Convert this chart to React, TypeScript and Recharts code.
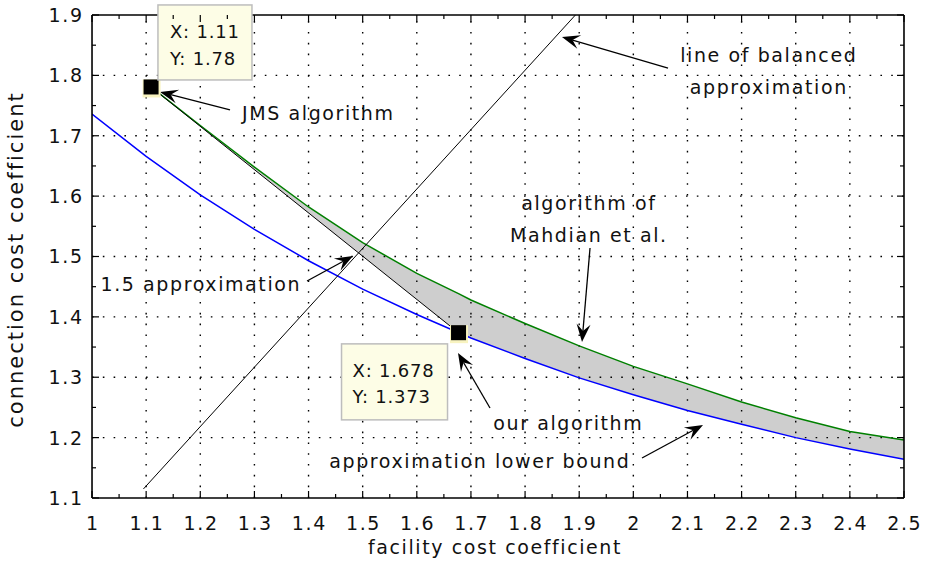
import React from 'react';
import {
  ComposedChart,
  XAxis,
  YAxis,
  Line,
  Area,
  Scatter,
  ReferenceLine,
  ReferenceDot,
} from 'recharts';

// ---------- axes ----------
const xTicks = [1, 1.1, 1.2, 1.3, 1.4, 1.5, 1.6, 1.7, 1.8, 1.9, 2, 2.1, 2.2, 2.3, 2.4, 2.5];
const xTickLabels = ['1', '1.1', '1.2', '1.3', '1.4', '1.5', '1.6', '1.7', '1.8', '1.9', '2', '2.1', '2.2', '2.3', '2.4', '2.5'];
const xMinorTicks = [1.05, 1.15, 1.25, 1.35, 1.45, 1.55, 1.65, 1.75, 1.85, 1.95, 2.05, 2.15, 2.25, 2.35, 2.45];
const yTicks = [1.1, 1.2, 1.3, 1.4, 1.5, 1.6, 1.7, 1.8, 1.9];
const yTickLabels = ['1.1', '1.2', '1.3', '1.4', '1.5', '1.6', '1.7', '1.8', '1.9'];
const yMinorTicks = [1.15, 1.25, 1.35, 1.45, 1.55, 1.65, 1.75, 1.85];
const xTitle = 'facility cost coefficient';
const yTitle = 'connection cost coefficient';

// ---------- series ----------
// approximation lower bound (blue)
const lowerBoundX = [1.0, 1.1, 1.2, 1.3, 1.4, 1.5, 1.6, 1.7, 1.8, 1.9, 2.0, 2.1, 2.2, 2.3, 2.4, 2.5];
const lowerBoundY = [1.736, 1.666, 1.602, 1.545, 1.493, 1.446, 1.404, 1.365, 1.331, 1.299, 1.271, 1.245, 1.222, 1.2, 1.181, 1.164];

// algorithm of Mahdian et al. (green)
const mahdianX = [1.11, 1.2, 1.3, 1.4, 1.5, 1.6, 1.678, 1.7, 1.8, 1.9, 2.0, 2.1, 2.2, 2.3, 2.4, 2.5];
const mahdianY = [1.78, 1.717, 1.648, 1.582, 1.523, 1.472, 1.438, 1.428, 1.389, 1.352, 1.318, 1.289, 1.259, 1.233, 1.21, 1.196];

// lower edge of the shaded region, at the same x as mahdianX
const shadeLowY = [1.78, 1.7155, 1.644, 1.572, 1.501, 1.429, 1.373, 1.365, 1.331, 1.299, 1.271, 1.245, 1.222, 1.2, 1.181, 1.164];

// JMS -> our algorithm segment (black)
const jmsSegmentX = [1.11, 1.678];
const jmsSegmentY = [1.78, 1.373];

// line of balanced approximation (black)
const balancedX = [1.095, 1.893];
const balancedY = [1.115, 1.9];

// data-tip markers
const markerX = [1.11, 1.678];
const markerY = [1.78, 1.373];
const markerTips = [
  ['X: 1.11', 'Y: 1.78'],
  ['X: 1.678', 'Y: 1.373'],
];

// text annotations (data coordinates)
const noteLines = [
  ['JMS algorithm'],
  ['1.5 approximation'],
  ['line of balanced', 'approximation'],
  ['algorithm of', 'Mahdian et al.'],
  ['our algorithm'],
  ['approximation lower bound'],
];
const noteX = [1.4166, 1.1995, 2.2488, 1.9163, 1.8784, 1.7149];
const noteY = [1.7261, 1.4429, 1.8222, 1.577, 1.2126, 1.1497];

// arrows (data coordinates): from tail to tip
const arrowFromX = [1.2549, 1.3972, 2.0641, 1.92, 1.7352, 2.016];
const arrowFromY = [1.7427, 1.4594, 1.8122, 1.5141, 1.2491, 1.1663];
const arrowToX = [1.1256, 1.4821, 1.8682, 1.9052, 1.6761, 2.1287];
const arrowToY = [1.7725, 1.5008, 1.8636, 1.3584, 1.3402, 1.2209];

// ---------- derived tables ----------
const lowerBoundData = lowerBoundX.map((x, i) => ({ x, y: lowerBoundY[i] }));
const mahdianData = mahdianX.map((x, i) => ({ x, y: mahdianY[i] }));
const shadeData = mahdianX.map((x, i) => ({ x, range: [shadeLowY[i], mahdianY[i]] }));
const jmsSegmentData = jmsSegmentX.map((x, i) => ({ x, y: jmsSegmentY[i] }));
const balancedData = balancedX.map((x, i) => ({ x, y: balancedY[i] }));
const markerData = markerX.map((x, i) => ({ x, y: markerY[i] }));

// ---------- styles ----------
const W = 928;
const H = 571;
const MARGIN = { top: 15, right: 24, bottom: 73, left: 92 };
const THIN = 0.01; // axis band thickness (must be > 0 for the axis to draw)
const FONT = '"DejaVu Sans", "Liberation Sans", sans-serif';
const TXT = { fontFamily: FONT, fontSize: 19, letterSpacing: 1.6, fill: '#111' };
const TIP_TXT = { fontFamily: FONT, fontSize: 18, letterSpacing: 0.8, fill: '#111' };
const MAJOR = 7;
const MINOR = 4;
const TICK_STROKE = 1.2;
const tipLayout = [
  { dx: 6.4, dy: -82.5, w: 94, h: 75, tx: 18.4, ty: [-49.5, -22.5] },
  { dx: -117.5, dy: 10.7, w: 106, h: 76, tx: -106.5, ty: [43.7, 69.7] },
];

const labelFor = (ticks: number[], labels: string[], v: number) => {
  const i = ticks.findIndex((t) => Math.abs(t - v) < 1e-9);
  return i >= 0 ? labels[i] : String(v);
};

const BottomTick = (p: any) => (
  <g>
    <line x1={p.x} y1={p.y} x2={p.x} y2={p.y - MAJOR} stroke="#000" strokeWidth={TICK_STROKE} />
    <text x={p.x + 0.8} y={p.y + 32} textAnchor="middle" style={TXT}>
      {labelFor(xTicks, xTickLabels, p.payload.value)}
    </text>
  </g>
);
const BottomMinorTick = (p: any) => (
  <line x1={p.x} y1={p.y} x2={p.x} y2={p.y - MINOR} stroke="#000" strokeWidth={TICK_STROKE} />
);
const TopTick = (p: any) => {
  const major = xTicks.some((t) => Math.abs(t - p.payload.value) < 1e-9);
  return <line x1={p.x} y1={p.y} x2={p.x} y2={p.y + (major ? MAJOR : MINOR)} stroke="#000" strokeWidth={TICK_STROKE} />;
};
const LeftTick = (p: any) => (
  <g>
    <line x1={p.x} y1={p.y} x2={p.x + MAJOR} y2={p.y} stroke="#000" strokeWidth={TICK_STROKE} />
    <text x={p.x - 10 + 1.6} y={p.y + 7} textAnchor="end" style={TXT}>
      {labelFor(yTicks, yTickLabels, p.payload.value)}
    </text>
  </g>
);
const LeftMinorTick = (p: any) => (
  <line x1={p.x} y1={p.y} x2={p.x + MINOR} y2={p.y} stroke="#000" strokeWidth={TICK_STROKE} />
);
const RightTick = (p: any) => {
  const major = yTicks.some((t) => Math.abs(t - p.payload.value) < 1e-9);
  return <line x1={p.x} y1={p.y} x2={p.x - (major ? MAJOR : MINOR)} y2={p.y} stroke="#000" strokeWidth={TICK_STROKE} />;
};

const XTitle = (props: any) => {
  const vb = props.viewBox || { x: MARGIN.left, y: H - MARGIN.bottom, width: W - MARGIN.left - MARGIN.right, height: 0 };
  const x = vb.x + vb.width / 2 - 3;
  const y = vb.y + 56;
  return (
    <text x={x} y={y} textAnchor="middle" style={TXT}>
      {xTitle}
    </text>
  );
};
const YTitle = (props: any) => {
  const vb = props.viewBox || { x: MARGIN.left, y: MARGIN.top, width: 0, height: H - MARGIN.top - MARGIN.bottom };
  const x = vb.x - 69;
  const y = vb.y + vb.height / 2 + 3;
  return (
    <text x={x} y={y} transform={`rotate(-90 ${x} ${y})`} textAnchor="middle" style={{ ...TXT, fontSize: 21, letterSpacing: 2 }}>
      {yTitle}
    </text>
  );
};

const Arrow = (p: any) => {
  const { x1, y1, x2, y2 } = p;
  if ([x1, y1, x2, y2].some((v) => v == null || isNaN(v))) return null;
  const dx = x2 - x1;
  const dy = y2 - y1;
  const len = Math.hypot(dx, dy) || 1;
  const ux = dx / len;
  const uy = dy / len;
  const nx = -uy;
  const ny = ux;
  const L = 18;
  const HW = 7;
  const N = 11;
  const bx = x2 - ux * L;
  const by = y2 - uy * L;
  const head = `M${x2},${y2} L${bx + nx * HW},${by + ny * HW} L${x2 - ux * N},${y2 - uy * N} L${bx - nx * HW},${by - ny * HW} Z`;
  return (
    <g>
      <line x1={x1} y1={y1} x2={x2 - ux * N} y2={y2 - uy * N} stroke="#000" strokeWidth={1.3} />
      <path d={head} fill="#000" />
    </g>
  );
};

const makeNote = (lines: string[]) => (p: any) => {
  const { cx, cy } = p;
  return (
    <g>
      {lines.map((t, i) => (
        <text key={i} x={cx + 0.8} y={cy + i * 30 * (lines.length > 1 ? 1.07 : 1)} textAnchor="middle" style={TXT}>
          {t}
        </text>
      ))}
    </g>
  );
};

const makeTip = (k: number) => (p: any) => {
  const { cx, cy } = p;
  const L = tipLayout[k];
  return (
    <g>
      <rect x={cx + L.dx} y={cy + L.dy} width={L.w} height={L.h} fill="#fdfde6" stroke="#bdbdbd" strokeWidth={1.5} />
      {markerTips[k].map((t, i) => (
        <text key={i} x={cx + L.tx} y={cy + L.ty[i]} style={TIP_TXT}>
          {t}
        </text>
      ))}
    </g>
  );
};

const MarkerShape = (p: any) => (
  <g>
    <rect x={p.cx - 9} y={p.cy - 8} width={18} height={18} fill="#f8f3c0" />
    <rect x={p.cx - 8} y={p.cy - 8} width={15} height={15} fill="#000" />
  </g>
);

export default function App() {
  return (
    <div style={{ position: 'absolute', left: 0, top: 0, width: W, height: H, background: '#fff' }}>
      <ComposedChart width={W} height={H} margin={MARGIN}>
        <XAxis
          xAxisId={0}
          dataKey="x"
          type="number"
          domain={[1, 2.5]}
          allowDataOverflow
          ticks={xTicks}
          interval={0}
          height={THIN}
          tickSize={0}
          tickMargin={0}
          tickLine={false}
          tick={<BottomTick />}
          axisLine={{ stroke: '#000', strokeWidth: 1.6 }}
          label={<XTitle />}
        />
        <XAxis
          xAxisId="bminor"
          dataKey="x"
          type="number"
          domain={[1, 2.5]}
          allowDataOverflow
          ticks={xMinorTicks}
          interval={0}
          height={THIN}
          tickSize={0}
          tickMargin={0}
          tickLine={false}
          tick={<BottomMinorTick />}
          axisLine={false}
        />
        <XAxis
          xAxisId="top"
          orientation="top"
          dataKey="x"
          type="number"
          domain={[1, 2.5]}
          allowDataOverflow
          ticks={[...xTicks, ...xMinorTicks].sort((a, b) => a - b)}
          interval={0}
          height={THIN}
          tickSize={0}
          tickMargin={0}
          tickLine={false}
          tick={<TopTick />}
          axisLine={{ stroke: '#000', strokeWidth: 1.6 }}
        />
        <YAxis
          yAxisId={0}
          type="number"
          domain={[1.1, 1.9]}
          allowDataOverflow
          ticks={yTicks}
          interval={0}
          width={THIN}
          tickSize={0}
          tickMargin={0}
          tickLine={false}
          tick={<LeftTick />}
          axisLine={{ stroke: '#000', strokeWidth: 1.6 }}
          label={<YTitle />}
        />
        <YAxis
          yAxisId="lminor"
          type="number"
          domain={[1.1, 1.9]}
          allowDataOverflow
          ticks={yMinorTicks}
          interval={0}
          width={THIN}
          tickSize={0}
          tickMargin={0}
          tickLine={false}
          tick={<LeftMinorTick />}
          axisLine={false}
        />
        <YAxis
          yAxisId="right"
          orientation="right"
          type="number"
          domain={[1.1, 1.9]}
          allowDataOverflow
          ticks={[...yTicks, ...yMinorTicks].sort((a, b) => a - b)}
          interval={0}
          width={THIN}
          tickSize={0}
          tickMargin={0}
          tickLine={false}
          tick={<RightTick />}
          axisLine={{ stroke: '#000', strokeWidth: 1.6 }}
        />

        <Area
          data={shadeData}
          dataKey="range"
          type="linear"
          fill="#cecece"
          fillOpacity={1}
          stroke="none"
          isAnimationActive={false}
          activeDot={false}
        />

        {xTicks.slice(1, -1).map((v) => (
          <ReferenceLine key={`gx${v}`} x={v} stroke="#000" strokeWidth={1.4} strokeDasharray="1.6 9.2" />
        ))}
        {yTicks.slice(1, -1).map((v) => (
          <ReferenceLine key={`gy${v}`} y={v} stroke="#000" strokeWidth={1.4} strokeDasharray="1.6 9.2" />
        ))}

        <Line data={lowerBoundData} dataKey="y" type="linear" stroke="#0000ff" strokeWidth={1.5} dot={false} activeDot={false} isAnimationActive={false} />
        <Line data={mahdianData} dataKey="y" type="linear" stroke="#008000" strokeWidth={1.5} dot={false} activeDot={false} isAnimationActive={false} />
        <Line data={jmsSegmentData} dataKey="y" type="linear" stroke="#000" strokeWidth={1} dot={false} activeDot={false} isAnimationActive={false} />
        <Line data={balancedData} dataKey="y" type="linear" stroke="#000" strokeWidth={1} dot={false} activeDot={false} isAnimationActive={false} />

        {arrowFromX.map((_, i) => (
          <ReferenceLine
            key={`ar${i}`}
            segment={[
              { x: arrowFromX[i], y: arrowFromY[i] },
              { x: arrowToX[i], y: arrowToY[i] },
            ]}
            ifOverflow="visible"
            shape={(p: any) => <Arrow {...p} />}
          />
        ))}

        {noteLines.map((lines, i) => (
          <ReferenceDot key={`nt${i}`} x={noteX[i]} y={noteY[i]} r={0} ifOverflow="visible" shape={makeNote(lines)} />
        ))}

        <Scatter data={markerData} dataKey="y" shape={(p: any) => <MarkerShape {...p} />} isAnimationActive={false} />

        {markerX.map((x, k) => (
          <ReferenceDot key={`tip${k}`} x={x} y={markerY[k]} r={0} ifOverflow="visible" shape={makeTip(k)} />
        ))}
      </ComposedChart>
    </div>
  );
}
